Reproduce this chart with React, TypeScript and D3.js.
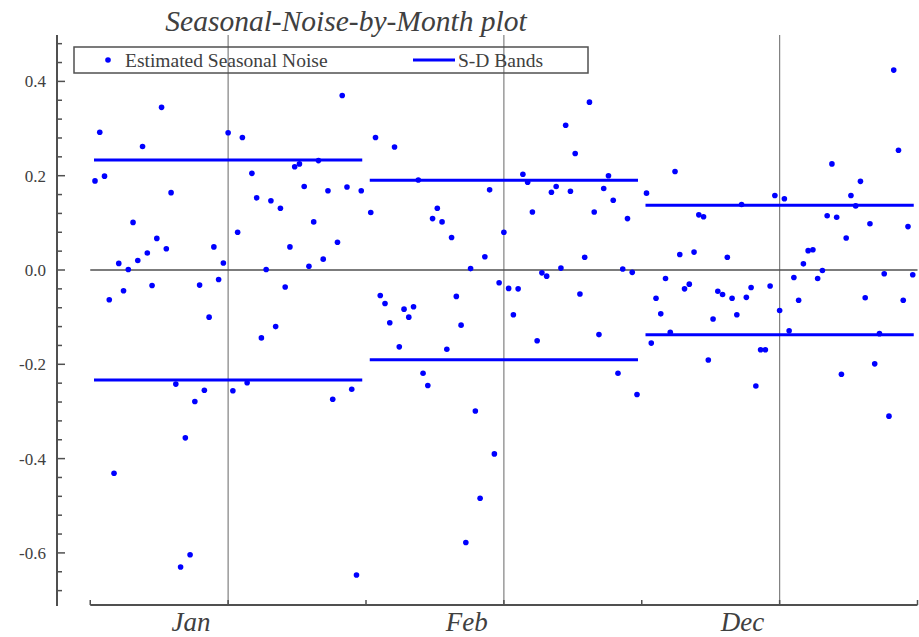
import React from "react";
import * as d3 from "d3";

const months = ["Jan", "Feb", "Dec"];

const janNoise = [
  0.189, 0.292, 0.199, -0.063, -0.431, 0.014, -0.044, 0.001, 0.101, 0.02, 0.262, 0.036, -0.033, 0.067, 0.345,
  0.045, 0.164, -0.242, -0.63, -0.356, -0.604, -0.279, -0.032, -0.255, -0.1, 0.049, -0.02, 0.015, 0.291,
  -0.256, 0.08, 0.281, -0.239, 0.205, 0.153, -0.144, 0.001, 0.147, -0.12, 0.131, -0.036, 0.049, 0.219, 0.225,
  0.177, 0.008, 0.102, 0.232, 0.023, 0.168, -0.274, 0.059, 0.37, 0.176, -0.253, -0.647, 0.168,
];

const febNoise = [
  0.122, 0.281, -0.054, -0.071, -0.112, 0.261, -0.163, -0.083, -0.1, -0.078, 0.191, -0.219, -0.245, 0.109,
  0.131, 0.102, -0.168, 0.069, -0.056, -0.117, -0.578, 0.003, -0.299, -0.484, 0.028, 0.17, -0.39, -0.027,
  0.08, -0.039, -0.095, -0.04, 0.203, 0.186, 0.123, -0.15, -0.006, -0.013, 0.165, 0.177, 0.004, 0.307, 0.167,
  0.247, -0.051, 0.027, 0.356, 0.123, -0.137, 0.173, 0.2, 0.148, -0.219, 0.002, 0.109, -0.005, -0.264,
];

const decNoise = [
  0.163, -0.155, -0.06, -0.093, -0.018, -0.132, 0.209, 0.033, -0.04, -0.03, 0.038, 0.117, 0.113, -0.191,
  -0.104, -0.045, -0.052, 0.027, -0.06, -0.095, 0.139, -0.058, -0.037, -0.246, -0.169, -0.169, -0.034, 0.158,
  -0.086, 0.151, -0.129, -0.016, -0.064, 0.013, 0.041, 0.043, -0.018, -0.001, 0.115, 0.225, 0.112, -0.221,
  0.068, 0.158, 0.136, 0.188, -0.059, 0.098, -0.199, -0.135, -0.008, -0.31, 0.424, 0.254, -0.064, 0.092, -0.01,
];

const bandSD = [0.2335, 0.1905, 0.1375];

const yMajorTicks = [-0.6, -0.4, -0.2, 0.0, 0.2, 0.4];
const yTickLabels = ["-0.6", "-0.4", "-0.2", "0.0", "0.2", "0.4"];

const series = [janNoise, febNoise, decNoise];

const W = 919;
const H = 637;
const BLUE = "#0000ff";
const TXT = "#404040";
const AX = "#505050";
const SERIF = "'Liberation Serif', 'Times New Roman', serif";

export default function App() {
  const perMonth = 57;
  const slot = perMonth + 1;
  const xMax = slot * months.length;
  const x = d3.scaleLinear().domain([0, xMax]).range([90.25, 917.5]);
  const y = d3.scaleLinear().domain([-0.7126, 0.4984]).range([606, 35]);

  const xTicks = d3.range(0, xMax + 1, slot / 2);
  const centers = months.map((_, m) => m * slot + slot / 2);
  const labelShift = 7.8; // labels sit left of the month gridline, in x units
  const minorTicks = d3.range(-0.68, 0.5, 0.04).filter(
    (v) => !yMajorTicks.some((t) => Math.abs(t - v) < 1e-6)
  );

  const x0 = x(0);
  const x1 = x(xMax);

  return (
    <svg
      width={W}
      height={H}
      style={{ position: "absolute", left: 0, top: 0, background: "#fff" }}
      fontFamily={SERIF}
    >
      {/* title */}
      <text x={346} y={31} textAnchor="middle" fontSize={29.5} fontStyle="italic" fill={TXT}>
        Seasonal-Noise-by-Month plot
      </text>

      {/* vertical gridlines at month centers */}
      {centers.map((c, i) => (
        <line key={"g" + i} x1={x(c)} x2={x(c)} y1={y(0.4984)} y2={y(-0.7126)} stroke="#808080" strokeWidth={1.2} />
      ))}

      {/* zero line */}
      <line x1={x0} x2={x1} y1={y(0)} y2={y(0)} stroke={AX} strokeWidth={1.5} />

      {/* y axis */}
      <line x1={57} x2={57} y1={35} y2={606} stroke={AX} strokeWidth={2} />
      {yMajorTicks.map((t, i) => (
        <g key={"yt" + i}>
          <line x1={57} x2={65} y1={y(t)} y2={y(t)} stroke={AX} strokeWidth={1.5} />
          <text x={46} y={y(t) + 6} textAnchor="end" fontSize={17} fill={TXT}>
            {yTickLabels[i]}
          </text>
        </g>
      ))}
      {minorTicks.map((t, i) => (
        <line key={"ym" + i} x1={57} x2={62} y1={y(t)} y2={y(t)} stroke={AX} strokeWidth={1.5} />
      ))}

      {/* x axis */}
      <line x1={x0} x2={x1} y1={605} y2={605} stroke={AX} strokeWidth={2} />
      {xTicks.map((t, i) => (
        <line key={"xt" + i} x1={x(t)} x2={x(t)} y1={605} y2={600} stroke={AX} strokeWidth={1.5} />
      ))}
      {centers.map((c, i) => (
        <text
          key={"xl" + i}
          x={x(c - labelShift)}
          y={631}
          textAnchor="middle"
          fontSize={27}
          fontStyle="italic"
          fill={TXT}
        >
          {months[i]}
        </text>
      ))}

      {/* S-D bands */}
      {series.map((s, m) => {
        const a = x(m * slot + 1) - 1;
        const b = x(m * slot + s.length) + 1;
        return (
          <g key={"b" + m}>
            <line x1={a} x2={b} y1={y(bandSD[m])} y2={y(bandSD[m])} stroke={BLUE} strokeWidth={3} />
            <line x1={a} x2={b} y1={y(-bandSD[m])} y2={y(-bandSD[m])} stroke={BLUE} strokeWidth={3} />
          </g>
        );
      })}

      {/* points */}
      {series.map((s, m) =>
        s.map((v, i) => <circle key={m + "-" + i} cx={x(m * slot + 1 + i)} cy={y(v)} r={2.8} fill={BLUE} />)
      )}

      {/* legend */}
      <rect x={74} y={47} width={514} height={26} fill="none" stroke={AX} strokeWidth={1.5} />
      <circle cx={108} cy={60} r={2.8} fill={BLUE} />
      <text x={125} y={66.5} fontSize={19.5} fill={TXT}>
        Estimated Seasonal Noise
      </text>
      <line x1={413} x2={455} y1={60} y2={60} stroke={BLUE} strokeWidth={3} />
      <text x={458} y={66.5} fontSize={19.5} fill={TXT}>
        S-D Bands
      </text>
    </svg>
  );
}
